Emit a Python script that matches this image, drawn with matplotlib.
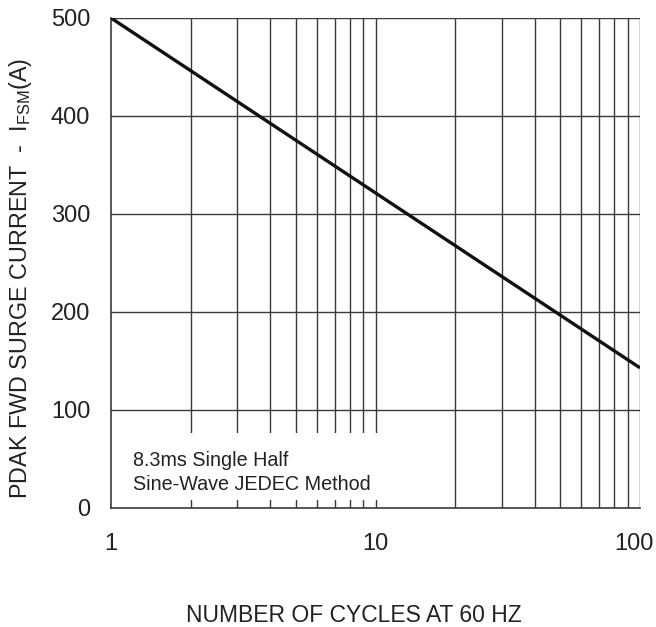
import matplotlib
matplotlib.use("Agg")
import matplotlib.pyplot as plt
from matplotlib.patches import Rectangle
from matplotlib.transforms import ScaledTranslation
import numpy as np

plt.rcParams['font.family'] = ['Liberation Sans', 'DejaVu Sans']
plt.rcParams['mathtext.fontset'] = 'custom'
plt.rcParams['mathtext.rm'] = 'Liberation Sans'

cycles = [1, 100]
current = [500, 143]
x_ticks = [1, 10, 100]
x_tick_labels = ["1", "10", "100"]
y_ticks = [0, 100, 200, 300, 400, 500]

fig = plt.figure(figsize=(6.56, 6.27), dpi=100)
ax = fig.add_axes([111/656, 1-508/627, (640-111)/656, (508-18)/627])
ax.set_xscale('log')
ax.set_xlim(1, 100)
ax.set_ylim(0, 500)

# grid
minor = [m*d for d in (1, 10) for m in range(2, 10)]
for xv in minor + [10, 100]:
    ax.axvline(xv, color='#3a3a3a', lw=1.0, zorder=1)
for yv in y_ticks[1:]:
    ax.axhline(yv, color='#3a3a3a', lw=1.0, zorder=1)

# white box behind annotation
ax.add_patch(Rectangle((1.0, 8.2), 10.45, 68.3, facecolor='white', edgecolor='none', zorder=2))
ax.text(1.21, 58.5, "8.3ms Single Half\nSine-Wave JEDEC Method", fontsize=14.2, va='top', ha='left',
        linespacing=1.38, color='#222222', zorder=3)

ax.plot(cycles, current, color='#111111', lw=2.4, zorder=4, solid_capstyle='butt')

ax.set_xticks(x_ticks)
ax.set_xticklabels(x_tick_labels)
ax.xaxis.set_minor_locator(matplotlib.ticker.NullLocator())
ax.set_yticks(y_ticks)
ax.tick_params(axis='both', length=0, labelsize=17, colors='#222222')
ax.tick_params(axis='x', pad=18)
ax.tick_params(axis='y', pad=15)

# nudge the last x tick label left so it stays inside the figure
lbls = ax.get_xticklabels()
offs = [0, 0, -6]
for lb, o in zip(lbls, offs):
    lb.set_transform(lb.get_transform() + ScaledTranslation(o/100, 0, fig.dpi_scale_trans))

for s in ['top', 'right']:
    ax.spines[s].set_visible(False)
for s in ['left', 'bottom']:
    ax.spines[s].set_color('#3a3a3a')
    ax.spines[s].set_linewidth(1.2)

ax.set_xlabel("NUMBER OF CYCLES AT 60 HZ", fontsize=16.5, color='#222222', va='center')
ax.xaxis.set_label_coords((354-111)/529, (508-615)/490)
ax.set_ylabel(r"PDAK FWD SURGE CURRENT  -  I$_{\mathregular{FSM}}$(A)", fontsize=16.8,
              color='#222222', va='center', ha='center')
ax.yaxis.set_label_coords((20-111)/529, (508-278)/490)

fig.savefig("out.png", dpi=100)
